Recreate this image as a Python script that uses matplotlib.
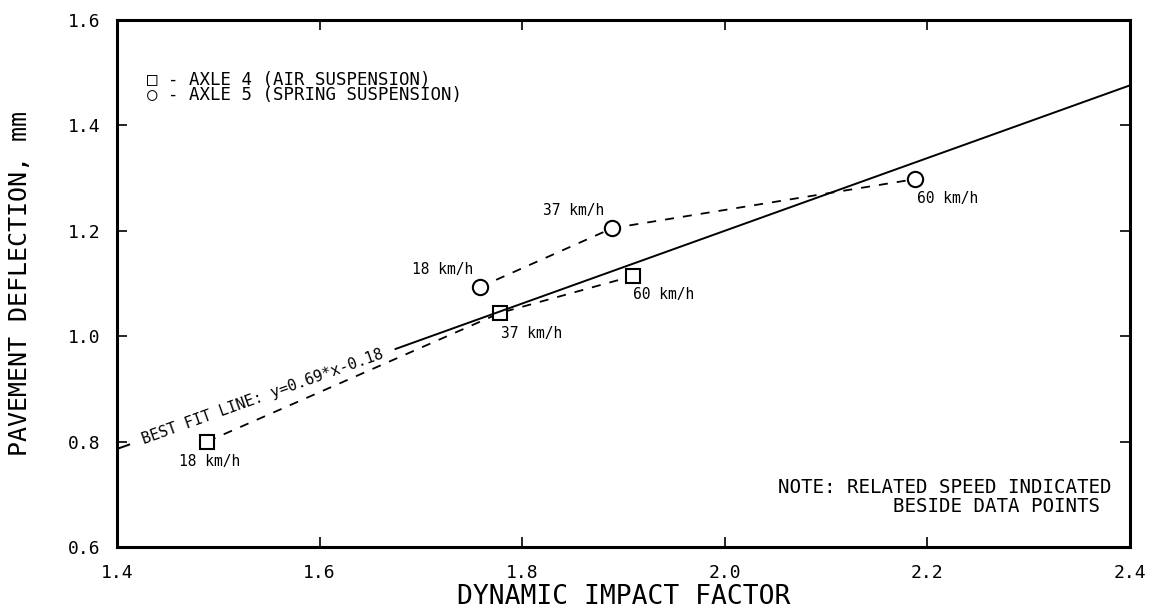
#!/usr/bin/env python
# -*- coding: utf-8 -*-

import matplotlib
matplotlib.use('Agg')
import matplotlib.pyplot as plt
import numpy as np

# axle 4 (air suspension) - squares
axle4_x = [1.489, 1.778, 1.909]
axle4_y = [0.800, 1.044, 1.114]
axle4_speed = ['18 km/h', '37 km/h', '60 km/h']

# axle 5 (spring suspension) - circles
axle5_x = [1.758, 1.889, 2.188]
axle5_y = [1.093, 1.205, 1.298]
axle5_speed = ['18 km/h', '37 km/h', '60 km/h']

# best fit line y = 0.69x - 0.18
fit_slope = 0.69
fit_icept = -0.18
fit_x = [1.675, 2.4]

x_ticks = [1.4, 1.6, 1.8, 2.0, 2.2, 2.4]
y_ticks = [0.6, 0.8, 1.0, 1.2, 1.4, 1.6]

FONT = 'DejaVu Sans Mono'
plt.rcParams['font.family'] = FONT


def plot_deflection():
	fig = plt.figure(figsize=(11.63, 6.13), dpi=100)
	ax = fig.add_axes([0.1006, 0.1077, 0.8710, 0.8597])

	ax.set_xlim(1.4, 2.4)
	ax.set_ylim(0.6, 1.6)
	ax.set_xticks(x_ticks)
	ax.set_yticks(y_ticks)
	ax.set_xticklabels(['%.1f' % v for v in x_ticks], fontsize=13)
	ax.set_yticklabels(['%.1f' % v for v in y_ticks], fontsize=13)
	ax.tick_params(direction='in', length=7, width=1.2, top=True, right=True, pad=12)
	for s in ax.spines.values():
		s.set_linewidth(2.2)

	ax.set_xlabel('DYNAMIC IMPACT FACTOR', fontsize=19, labelpad=2)
	ax.set_ylabel('PAVEMENT DEFLECTION, mm', fontsize=18, labelpad=26)

	dash = (0, (5, 5))
	ax.plot(axle4_x, axle4_y, color='black', lw=1.3, linestyle=dash,
			marker='s', markersize=10, markerfacecolor='white', markeredgewidth=1.5)
	ax.plot(axle5_x, axle5_y, color='black', lw=1.3, linestyle=dash,
			marker='o', markersize=11, markerfacecolor='white', markeredgewidth=1.5)

	# speed labels (offsets in points)
	off4 = [(-20, -14), (1, -15), (0, -13)]
	off5 = [(-49, 13), (-50, 13), (1, -14)]
	for x, y, s, o in zip(axle4_x, axle4_y, axle4_speed, off4):
		ax.annotate(s, (x, y), xytext=o, textcoords='offset points',
					fontsize=10.5, ha='left', va='center')
	for x, y, s, o in zip(axle5_x, axle5_y, axle5_speed, off5):
		ax.annotate(s, (x, y), xytext=o, textcoords='offset points',
					fontsize=10.5, ha='left', va='center')

	# best fit line
	fx = np.array(fit_x)
	ax.plot(fx, fit_slope * fx + fit_icept, color='black', lw=1.4)
	ax.plot([1.4, 1.412], [fit_slope * 1.4 + fit_icept, fit_slope * 1.412 + fit_icept],
			color='black', lw=1.4)
	# angle of the line on screen
	fig.canvas.draw()
	p0 = ax.transData.transform((1.4, fit_slope * 1.4 + fit_icept))
	p1 = ax.transData.transform((2.4, fit_slope * 2.4 + fit_icept))
	ang = np.degrees(np.arctan2(p1[1] - p0[1], p1[0] - p0[0]))
	tx = 1.425
	ax.text(tx, fit_slope * tx + fit_icept, 'BEST FIT LINE: y=0.69*x-0.18',
			rotation=ang, rotation_mode='anchor', ha='left', va='center', fontsize=11)

	# legend text
	ax.text(0.03, 0.887, '\u25a1 - AXLE 4 (AIR SUSPENSION)', transform=ax.transAxes,
			fontsize=12.5, va='center')
	ax.text(0.03, 0.857, '\u25cb - AXLE 5 (SPRING SUSPENSION)', transform=ax.transAxes,
			fontsize=12.5, va='center')

	ax.text(0.653, 0.095, 'NOTE: RELATED SPEED INDICATED\n          BESIDE DATA POINTS',
			transform=ax.transAxes, fontsize=13.8, ha='left', va='center',
			multialignment='left', linespacing=0.95)

	fig.savefig('out.png', dpi=100)


if __name__ == "__main__":
	plot_deflection()
